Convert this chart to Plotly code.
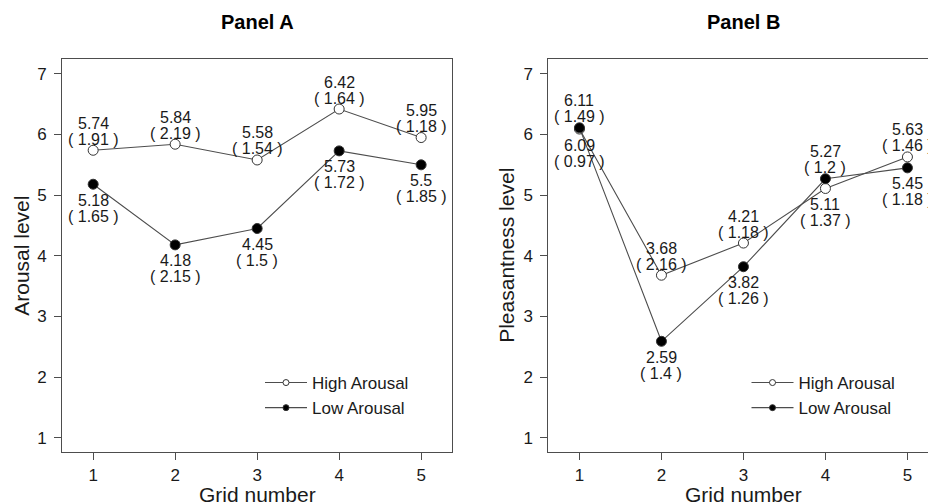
import plotly.graph_objects as go

grid = [1, 2, 3, 4, 5]
tick_vals_y = [1, 2, 3, 4, 5, 6, 7]

a_high = [5.74, 5.84, 5.58, 6.42, 5.95]
a_high_sd = [1.91, 2.19, 1.54, 1.64, 1.18]
a_low = [5.18, 4.18, 4.45, 5.73, 5.5]
a_low_sd = [1.65, 2.15, 1.5, 1.72, 1.85]

b_high = [6.09, 3.68, 4.21, 5.11, 5.63]
b_high_sd = [0.97, 2.16, 1.18, 1.37, 1.46]
b_low = [6.11, 2.59, 3.82, 5.27, 5.45]
b_low_sd = [1.49, 1.4, 1.26, 1.2, 1.18]

# label side: 1 = above, -1 = below
a_high_side = [1, 1, 1, 1, 1]
a_low_side = [-1, -1, -1, -1, -1]
b_high_side = [-1, 1, 1, -1, 1]
b_low_side = [1, -1, -1, 1, -1]

series_names = ["High Arousal", "Low Arousal"]
titles = ["Panel A", "Panel B"]
ytitles = ["Arousal level", "Pleasantness level"]
xtitle = "Grid number"

FONT = "Liberation Sans, Arial, Helvetica, sans-serif"
LINE = "#4d4d4d"
TXT = "#1a1a1a"
OFF = 8  # page body margin
W, H = 936 - OFF, 502 - OFF


def px(v):
    return (v - OFF) / W


def py(v):
    return 1 - (v - OFF) / H


fig = go.Figure()

panels = [
    ("x", "y", [(a_high, a_high_sd, a_high_side, False), (a_low, a_low_sd, a_low_side, True)], "legend"),
    ("x2", "y2", [(b_high, b_high_sd, b_high_side, False), (b_low, b_low_sd, b_low_side, True)], "legend2"),
]

annotations = []
for xa, ya, series, leg in panels:
    for (vals, sds, sides, filled), name in zip(series, series_names):
        fig.add_trace(go.Scatter(
            x=grid, y=vals, xaxis=xa, yaxis=ya, mode="lines+markers",
            line=dict(color=LINE, width=1.1),
            marker=dict(size=10, color="black" if filled else "white",
                        line=dict(color="#333333", width=1)),
            showlegend=False, name=name, hoverinfo="x+y"))
        for gx, v, s, sd in zip(grid, vals, sides, sds):
            if s > 0:
                sh_mean, sh_sd = 27, 11
            else:
                sh_mean, sh_sd = -16, -32
            annotations.append(dict(x=gx, y=v, xref=xa, yref=ya, text=f"{v:g}",
                                    showarrow=False, yshift=sh_mean, yanchor="middle",
                                    font=dict(family=FONT, size=16, color=TXT)))
            annotations.append(dict(x=gx, y=v, xref=xa, yref=ya, text=f"( {sd:g} )",
                                    showarrow=False, yshift=sh_sd, yanchor="middle",
                                    font=dict(family=FONT, size=16, color=TXT)))
    # legend-only traces with small markers
    for filled, name in [(False, series_names[0]), (True, series_names[1])]:
        fig.add_trace(go.Scatter(
            x=[None], y=[None], xaxis=xa, yaxis=ya, mode="lines+markers",
            line=dict(color=LINE, width=1.1),
            marker=dict(size=6, color="black" if filled else "white",
                        line=dict(color="#333333", width=1)),
            name=name, legend=leg, showlegend=True))

ax_common = dict(showgrid=False, zeroline=False, showline=True, linecolor=LINE, linewidth=1,
                 ticks="outside", ticklen=7, tickcolor=LINE, tickwidth=1,
                 tickfont=dict(family=FONT, size=17, color=TXT), fixedrange=True)

xa_dom = [px(62), px(452.3)]
xb_dom = [px(548.3), 1.0]
y_dom = [py(452.3), py(59.3)]
unit_b = (452.3 - 62) / (5.38 - 0.62)

fig.update_layout(
    width=W, height=H, margin=dict(l=0, r=0, t=0, b=0),
    paper_bgcolor="white", plot_bgcolor="white",
    xaxis=dict(domain=xa_dom, range=[0.62, 5.38], tickvals=grid, mirror=True,
               anchor="y", **ax_common),
    yaxis=dict(domain=y_dom, range=[0.76, 7.24], tickvals=tick_vals_y,
               mirror=True, anchor="x", ticklabelstandoff=4, **ax_common),
    xaxis2=dict(domain=xb_dom, range=[0.62, 0.62 + (936 - 548.3) / unit_b], tickvals=grid,
                mirror=True, anchor="y2", **ax_common),
    yaxis2=dict(domain=y_dom, range=[0.76, 7.24], tickvals=tick_vals_y,
                mirror=False, anchor="x2", ticklabelstandoff=4, **ax_common),
    legend=dict(x=px(260), y=py(365), xanchor="left", yanchor="top",
                font=dict(family=FONT, size=17, color=TXT), bgcolor="rgba(0,0,0,0)",
                itemwidth=42, tracegroupgap=0),
    legend2=dict(x=px(746.5), y=py(365), xanchor="left", yanchor="top",
                 font=dict(family=FONT, size=17, color=TXT), bgcolor="rgba(0,0,0,0)",
                 itemwidth=42, tracegroupgap=0),
    showlegend=True,
)

centers_x = [(62 + 452.3) / 2, (548.3 + 939) / 2]
ytitle_x = [22, 507]
for cx, t in zip(centers_x, titles):
    annotations.append(dict(x=px(cx), y=py(22), xref="paper", yref="paper", text=f"<b>{t}</b>",
                            showarrow=False, xanchor="center", yanchor="middle",
                            font=dict(family=FONT, size=20, color="black")))
for cx in centers_x:
    annotations.append(dict(x=px(cx), y=py(494), xref="paper", yref="paper", text=xtitle,
                            showarrow=False, xanchor="center", yanchor="middle",
                            font=dict(family=FONT, size=21, color=TXT)))
for tx, t in zip(ytitle_x, ytitles):
    annotations.append(dict(x=px(tx), y=py(255.8), xref="paper", yref="paper", text=t,
                            showarrow=False, xanchor="center", yanchor="middle", textangle=-90,
                            font=dict(family=FONT, size=21, color=TXT)))

fig.update_layout(annotations=annotations)
fig.write_html("out.html")
